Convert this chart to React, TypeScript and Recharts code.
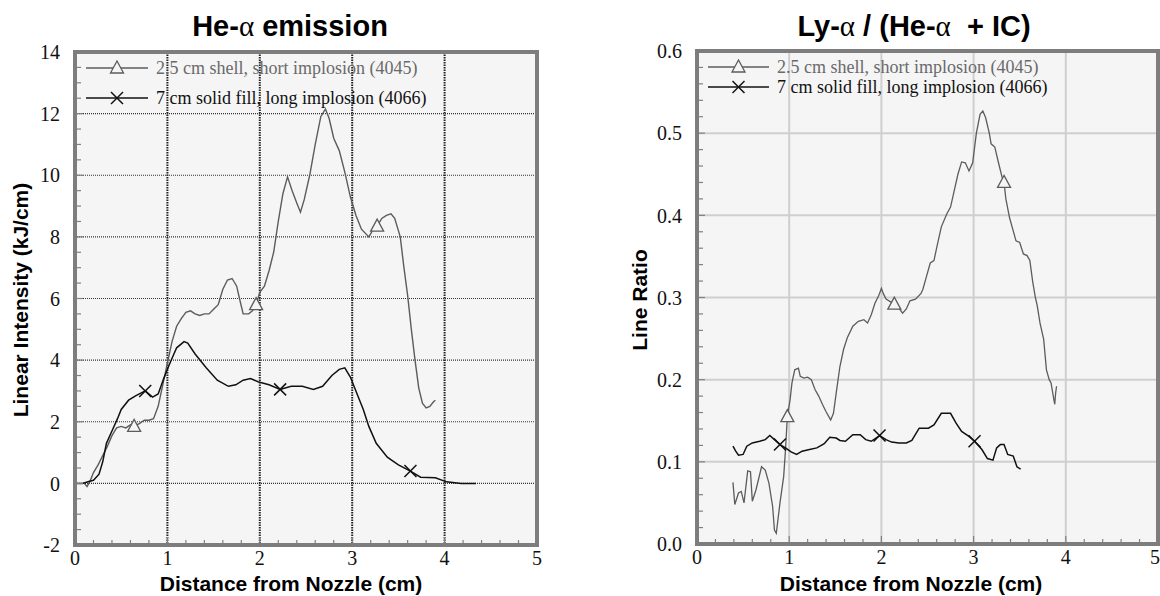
import { CartesianGrid, Legend, Line, LineChart, XAxis, YAxis } from 'recharts'

type Pt = [number, number]

// He-alpha emission, linear intensity (kJ/cm) vs distance (cm)
const heShell: Pt[] = [
  [0.1, 0], [0.13, -0.1], [0.16, 0.05], [0.2, 0.35], [0.25, 0.6], [0.3, 0.9], [0.35, 1.2],
  [0.4, 1.55], [0.45, 1.8], [0.5, 1.85], [0.55, 1.8], [0.6, 1.9], [0.64, 1.85], [0.7, 1.95],
  [0.75, 2.05], [0.8, 2.05], [0.85, 2.1], [0.9, 2.5], [0.95, 3.2], [1.0, 3.9], [1.05, 4.6],
  [1.1, 5.1], [1.15, 5.35], [1.2, 5.55], [1.25, 5.6], [1.3, 5.5], [1.35, 5.45], [1.4, 5.5],
  [1.45, 5.5], [1.5, 5.65], [1.55, 5.8], [1.6, 6.3], [1.65, 6.6], [1.7, 6.65], [1.75, 6.4],
  [1.78, 6.0], [1.82, 5.5], [1.88, 5.5], [1.92, 5.6], [1.96, 5.8], [2.0, 6.2], [2.05, 6.4],
  [2.1, 6.9], [2.15, 7.5], [2.2, 8.5], [2.25, 9.4], [2.3, 9.95], [2.35, 9.5], [2.4, 9.1],
  [2.44, 8.8], [2.48, 9.2], [2.54, 10.0], [2.6, 11.0], [2.66, 11.9], [2.71, 12.15], [2.75, 11.85],
  [2.8, 11.2], [2.86, 10.8], [2.92, 10.1], [2.98, 9.3], [3.04, 8.7], [3.1, 8.25], [3.18, 8.0],
  [3.22, 8.2], [3.27, 8.35], [3.32, 8.6], [3.37, 8.7], [3.42, 8.75], [3.46, 8.6], [3.52, 8.0],
  [3.56, 7.0], [3.6, 6.1], [3.64, 5.0], [3.68, 4.0], [3.72, 3.1], [3.76, 2.6], [3.8, 2.45],
  [3.84, 2.5], [3.88, 2.65], [3.9, 2.7],
]
const heFill: Pt[] = [
  [0.02, 0], [0.08, 0], [0.14, 0.05], [0.2, 0.1], [0.26, 0.3], [0.3, 0.7], [0.34, 1.3],
  [0.4, 1.7], [0.46, 2.1], [0.5, 2.4], [0.58, 2.7], [0.66, 2.85], [0.76, 3.0], [0.84, 2.8],
  [0.9, 2.9], [0.96, 3.4], [1.02, 3.85], [1.1, 4.4], [1.18, 4.6], [1.22, 4.55], [1.3, 4.2],
  [1.42, 3.75], [1.54, 3.35], [1.66, 3.15], [1.74, 3.2], [1.82, 3.35], [1.9, 3.4], [1.98, 3.3],
  [2.1, 3.2], [2.22, 3.05], [2.34, 3.15], [2.46, 3.15], [2.58, 3.05], [2.68, 3.15], [2.78, 3.5],
  [2.86, 3.7], [2.92, 3.75], [2.98, 3.45], [3.04, 3.0], [3.12, 2.4], [3.18, 1.85], [3.26, 1.3],
  [3.38, 0.85], [3.5, 0.6], [3.63, 0.4], [3.74, 0.2], [3.9, 0.18], [4.02, 0.05], [4.18, 0],
  [4.34, 0],
]
const heShellMarks = [0.64, 1.96, 3.27]
const heFillMarks = [0.76, 2.22, 3.63]

// Ly-alpha / (He-alpha + IC) line ratio vs distance (cm)
const lyShell: Pt[] = [
  [0.39, 0.075], [0.41, 0.048], [0.45, 0.062], [0.48, 0.064], [0.51, 0.05], [0.55, 0.089],
  [0.58, 0.088], [0.6, 0.052], [0.64, 0.066], [0.7, 0.094], [0.74, 0.09], [0.78, 0.074],
  [0.82, 0.046], [0.84, 0.017], [0.86, 0.013], [0.9, 0.05], [0.94, 0.082], [0.96, 0.115],
  [0.98, 0.155], [1.01, 0.176], [1.03, 0.196], [1.06, 0.212], [1.1, 0.214], [1.12, 0.204],
  [1.16, 0.202], [1.2, 0.203], [1.24, 0.2], [1.28, 0.188], [1.32, 0.18], [1.36, 0.17],
  [1.4, 0.161], [1.45, 0.151], [1.48, 0.159], [1.51, 0.184], [1.55, 0.216], [1.59, 0.237],
  [1.63, 0.251], [1.69, 0.265], [1.75, 0.271], [1.81, 0.273], [1.85, 0.269], [1.89, 0.279],
  [1.93, 0.293], [1.97, 0.302], [2.0, 0.311], [2.02, 0.305], [2.05, 0.298], [2.14, 0.292],
  [2.19, 0.287], [2.23, 0.281], [2.27, 0.286], [2.31, 0.296], [2.37, 0.298], [2.43, 0.305],
  [2.45, 0.31], [2.49, 0.326], [2.53, 0.342], [2.57, 0.345], [2.61, 0.366], [2.65, 0.386],
  [2.71, 0.402], [2.75, 0.41], [2.79, 0.43], [2.83, 0.45], [2.87, 0.465], [2.91, 0.464],
  [2.95, 0.454], [2.99, 0.464], [3.03, 0.5], [3.07, 0.523], [3.1, 0.527], [3.13, 0.519],
  [3.17, 0.5], [3.19, 0.487], [3.23, 0.483], [3.27, 0.464], [3.31, 0.446], [3.33, 0.44],
  [3.35, 0.42], [3.39, 0.397], [3.42, 0.385], [3.46, 0.369], [3.5, 0.367], [3.54, 0.353],
  [3.58, 0.351], [3.61, 0.345], [3.64, 0.32], [3.67, 0.3], [3.69, 0.29], [3.72, 0.269],
  [3.76, 0.249], [3.79, 0.212], [3.82, 0.2], [3.84, 0.196], [3.87, 0.176], [3.88, 0.17],
  [3.89, 0.184], [3.9, 0.192],
]
const lyFill: Pt[] = [
  [0.39, 0.119], [0.42, 0.113], [0.45, 0.108], [0.5, 0.109], [0.54, 0.119], [0.6, 0.123],
  [0.68, 0.125], [0.74, 0.127], [0.79, 0.132], [0.84, 0.127], [0.9, 0.121], [0.96, 0.117],
  [1.02, 0.112], [1.08, 0.109], [1.14, 0.113], [1.22, 0.115], [1.3, 0.117], [1.38, 0.122],
  [1.44, 0.13], [1.51, 0.129], [1.55, 0.126], [1.61, 0.125], [1.69, 0.133], [1.77, 0.133],
  [1.83, 0.127], [1.89, 0.125], [1.98, 0.132], [2.05, 0.127], [2.11, 0.124], [2.19, 0.123],
  [2.27, 0.123], [2.33, 0.126], [2.41, 0.141], [2.51, 0.141], [2.57, 0.145], [2.65, 0.159],
  [2.75, 0.159], [2.81, 0.147], [2.87, 0.137], [2.95, 0.131], [3.01, 0.125], [3.09, 0.115],
  [3.15, 0.104], [3.21, 0.102], [3.25, 0.117], [3.29, 0.121], [3.33, 0.121], [3.37, 0.109],
  [3.43, 0.107], [3.47, 0.094], [3.51, 0.091],
]
const lyShellMarks = [0.98, 2.14, 3.33]
const lyFillMarks = [0.9, 1.98, 3.01]

const seriesNames = [
  '2.5 cm shell, short implosion (4045)',
  '7 cm solid fill, long implosion (4066)',
]

// tick positions (minor + major)
const xTicks = [
  0, 0.2, 0.4, 0.6, 0.8, 1, 1.2, 1.4, 1.6, 1.8, 2, 2.2, 2.4, 2.6, 2.8,
  3, 3.2, 3.4, 3.6, 3.8, 4, 4.2, 4.4, 4.6, 4.8, 5,
]
const heYTicks = [
  -2, -1.5, -1, -0.5, 0, 0.5, 1, 1.5, 2, 2.5, 3, 3.5, 4, 4.5, 5, 5.5, 6, 6.5, 7,
  7.5, 8, 8.5, 9, 9.5, 10, 10.5, 11, 11.5, 12, 12.5, 13, 13.5, 14,
]
const lyYTicks = [
  0, 0.02, 0.04, 0.06, 0.08, 0.1, 0.12, 0.14, 0.16, 0.18, 0.2, 0.22, 0.24, 0.26, 0.28,
  0.3, 0.32, 0.34, 0.36, 0.38, 0.4, 0.42, 0.44, 0.46, 0.48, 0.5, 0.52, 0.54, 0.56, 0.58, 0.6,
]
const heGridY = [0, 2, 4, 6, 8, 10, 12]
const lyGridY = [0.1, 0.2, 0.3, 0.4, 0.5]
const gridX = [1, 2, 3, 4]
const xDomain: [number, number] = [0, 5]
const heDomain: [number, number] = [-2, 14]
const lyDomain: [number, number] = [0, 0.6]

const SERIF = '"Times New Roman", "Liberation Serif", serif'
const SANS = '"Liberation Sans", Arial, sans-serif'
const SHELL = '#5c5c5c'
const FILL = '#111'
const FRAME = '#7d7d7d'
const TICK = '#808080'

const CHART_W = 580
const CHART_H = 596
const AXIS = 1 // thickness given to each axis
const heMargin = { top: 51, bottom: 50, left: 74, right: 42 }
const lyMargin = { top: 50, bottom: 51, left: 116, right: 1 }

const toRows = (pts: Pt[]) => pts.map(([x, y]) => ({ x, y }))

const near = (a: number, b: number) => Math.abs(a - b) < 1e-6

function triangleDot(marks: number[]) {
  return (p: any) => {
    const { cx, cy, payload, index } = p
    if (!marks.some((m) => near(m, payload.x))) return <g key={`t${index}`} />
    return (
      <polygon
        key={`t${index}`}
        points={`${cx},${cy - 7} ${cx - 6.5},${cy + 5} ${cx + 6.5},${cy + 5}`}
        fill="#f5f5f5"
        stroke={SHELL}
        strokeWidth={1.3}
      />
    )
  }
}

function crossDot(marks: number[]) {
  return (p: any) => {
    const { cx, cy, payload, index } = p
    if (!marks.some((m) => near(m, payload.x))) return <g key={`c${index}`} />
    return (
      <g key={`c${index}`} stroke={FILL} strokeWidth={1.5}>
        <line x1={cx - 6} y1={cy - 6} x2={cx + 6} y2={cy + 6} />
        <line x1={cx - 6} y1={cy + 6} x2={cx + 6} y2={cy - 6} />
      </g>
    )
  }
}

const labelStyle = { fontFamily: SERIF, fontSize: 20 }

function bottomTick(lastAtEdge: boolean) {
  return (p: any) => {
    const { x, y, payload } = p
    const v = payload.value
    const major = near(v, Math.round(v))
    const edge = lastAtEdge && near(v, 5)
    return (
      <g>
        <line x1={x} x2={x} y1={y} y2={y - (major ? 8 : 5)} stroke={TICK} strokeWidth={1.2} />
        {major && (
          <text
            x={edge ? x + 2 : x}
            y={y + 20}
            textAnchor={edge ? 'end' : 'middle'}
            fontFamily={SERIF}
            fontSize={20}
            style={labelStyle}
            fill="#111"
          >
            {v}
          </text>
        )}
      </g>
    )
  }
}

const topTick = (p: any) => {
  const { x, y, payload } = p
  const major = near(payload.value, Math.round(payload.value))
  return <line x1={x} x2={x} y1={y} y2={y + (major ? 8 : 5)} stroke={TICK} strokeWidth={1.2} />
}

function leftTick(isMajor: (v: number) => boolean, fmt: (v: number) => string) {
  return (p: any) => {
    const { x, y, payload } = p
    const v = payload.value
    const major = isMajor(v)
    return (
      <g>
        <line x1={x} x2={x + (major ? 8 : 6)} y1={y} y2={y} stroke={TICK} strokeWidth={1.2} />
        {major && (
          <text
            x={x - 15}
            y={y}
            dy="0.36em"
            textAnchor="end"
            fontFamily={SERIF}
            fontSize={20}
            style={labelStyle}
            fill="#111"
          >
            {fmt(v)}
          </text>
        )}
      </g>
    )
  }
}

function rightTick(isMajor: (v: number) => boolean) {
  return (p: any) => {
    const { x, y, payload } = p
    const major = isMajor(payload.value)
    return <line x1={x} x2={x - (major ? 8 : 6)} y1={y} y2={y} stroke={TICK} strokeWidth={1.2} />
  }
}

const heMajor = (v: number) => near(v / 2, Math.round(v / 2))
const lyMajor = (v: number) => near(v * 10, Math.round(v * 10))

function LegendBox({ rowH, fontSize, lineW }: { rowH: number; fontSize: number; lineW: number }) {
  return (
    <div style={{ fontFamily: SERIF, fontSize, lineHeight: 1 }}>
      {seriesNames.map((name, i) => (
        <div key={name} style={{ display: 'flex', alignItems: 'center', height: rowH }}>
          <svg width={lineW} height={16} style={{ display: 'block' }}>
            <line x1={0} x2={lineW} y1={8} y2={8} stroke={i === 0 ? SHELL : FILL} strokeWidth={1.3} />
            {i === 0 ? (
              <polygon
                points={`${lineW / 2},${1} ${lineW / 2 - 6.5},${13} ${lineW / 2 + 6.5},${13}`}
                fill="#f5f5f5"
                stroke={SHELL}
                strokeWidth={1.3}
              />
            ) : (
              <g stroke={FILL} strokeWidth={1.5}>
                <line x1={lineW / 2 - 6} y1={2} x2={lineW / 2 + 6} y2={14} />
                <line x1={lineW / 2 - 6} y1={14} x2={lineW / 2 + 6} y2={2} />
              </g>
            )}
          </svg>
          <span style={{ marginLeft: 8, color: i === 0 ? '#6a6a6a' : '#111', whiteSpace: 'nowrap' }}>
            {name}
          </span>
        </div>
      ))}
    </div>
  )
}

// gray border drawn around the plot area that the margins leave
function PlotFrame({ m }: { m: { top: number; bottom: number; left: number; right: number } }) {
  const left = m.left + AXIS
  const top = m.top + AXIS
  const width = CHART_W - m.left - m.right - 2 * AXIS
  const height = CHART_H - m.top - m.bottom - 2 * AXIS
  return (
    <svg
      width={CHART_W}
      height={CHART_H}
      style={{ position: 'absolute', left: 0, top: 0, zIndex: 5, pointerEvents: 'none', overflow: 'visible' }}
    >
      <rect x={left} y={top} width={width} height={height} fill="none" stroke={FRAME} strokeWidth={4} />
    </svg>
  )
}

const abs = (left: number, top: number, extra: any = {}) => ({
  position: 'absolute' as const,
  left,
  top,
  transform: 'translate(-50%, -50%)',
  whiteSpace: 'pre' as const,
  ...extra,
})

const titleStyle = { fontFamily: SANS, fontWeight: 700, fontSize: 29, color: '#000' }
const axisTitleStyle = { fontFamily: SANS, fontWeight: 700, fontSize: 21, color: '#000' }
const alpha = <span style={{ fontFamily: SERIF, fontWeight: 400 }}>α</span>

// thin axes whose tick renderers draw the inward ticks and the labels
const axisBase = {
  type: 'number' as const,
  interval: 0 as const,
  tickSize: 0,
  tickMargin: 0,
  axisLine: false,
}

export default function App() {
  return (
    <div
      style={{
        position: 'absolute',
        left: 0,
        top: 0,
        width: 1160,
        height: 596,
        background: '#fff',
        overflow: 'hidden',
        fontFamily: SERIF,
      }}
    >
      {/* left panel */}
      <div style={{ position: 'absolute', left: 0, top: 0, width: CHART_W, height: CHART_H }}>
        <LineChart width={CHART_W} height={CHART_H} margin={heMargin}>
          <CartesianGrid
            horizontal
            vertical={false}
            horizontalValues={heGridY}
            fill="#f5f5f5"
            stroke="#333"
            strokeDasharray="1 1"
            strokeWidth={1.2}
          />
          <CartesianGrid
            horizontal={false}
            vertical
            verticalValues={gridX}
            stroke="#222"
            strokeDasharray="1.5 1"
            strokeWidth={2}
          />
          <XAxis {...axisBase} dataKey="x" domain={xDomain} ticks={xTicks} height={AXIS} tick={bottomTick(false)} />
          <XAxis {...axisBase} xAxisId="top" orientation="top" dataKey="x" domain={xDomain} ticks={xTicks} height={AXIS} tick={topTick} />
          <YAxis {...axisBase} domain={heDomain} ticks={heYTicks} width={AXIS} tick={leftTick(heMajor, (v) => String(v))} />
          <YAxis {...axisBase} yAxisId="right" orientation="right" domain={heDomain} ticks={heYTicks} width={AXIS} tick={rightTick(heMajor)} />
          <Legend
            layout="vertical"
            align="center"
            verticalAlign="middle"
            wrapperStyle={{ top: 53, left: 86, width: 'auto' }}
            content={() => <LegendBox rowH={30} fontSize={18} lineW={62} />}
          />
          <Line
            data={toRows(heShell)}
            dataKey="y"
            type="linear"
            stroke={SHELL}
            strokeWidth={1.4}
            dot={triangleDot(heShellMarks)}
            activeDot={false}
            isAnimationActive={false}
          />
          <Line
            data={toRows(heFill)}
            dataKey="y"
            type="linear"
            stroke={FILL}
            strokeWidth={1.5}
            dot={crossDot(heFillMarks)}
            activeDot={false}
            isAnimationActive={false}
          />
        </LineChart>
        <PlotFrame m={heMargin} />
      </div>

      {/* right panel */}
      <div style={{ position: 'absolute', left: CHART_W, top: 0, width: CHART_W, height: CHART_H }}>
        <LineChart width={CHART_W} height={CHART_H} margin={lyMargin}>
          <CartesianGrid
            horizontalValues={lyGridY}
            verticalValues={gridX}
            fill="#f5f5f5"
            stroke="#cfcfcf"
            strokeWidth={2}
          />
          <XAxis {...axisBase} dataKey="x" domain={xDomain} ticks={xTicks} height={AXIS} tick={bottomTick(true)} />
          <XAxis {...axisBase} xAxisId="top" orientation="top" dataKey="x" domain={xDomain} ticks={xTicks} height={AXIS} tick={topTick} />
          <YAxis {...axisBase} domain={lyDomain} ticks={lyYTicks} width={AXIS} tick={leftTick(lyMajor, (v) => v.toFixed(1))} />
          <YAxis {...axisBase} yAxisId="right" orientation="right" domain={lyDomain} ticks={lyYTicks} width={AXIS} tick={rightTick(lyMajor)} />
          <Legend
            layout="vertical"
            align="center"
            verticalAlign="middle"
            wrapperStyle={{ top: 57, left: 128, width: 'auto' }}
            content={() => <LegendBox rowH={20} fontSize={18} lineW={61} />}
          />
          <Line
            data={toRows(lyShell)}
            dataKey="y"
            type="linear"
            stroke={SHELL}
            strokeWidth={1.3}
            dot={triangleDot(lyShellMarks)}
            activeDot={false}
            isAnimationActive={false}
          />
          <Line
            data={toRows(lyFill)}
            dataKey="y"
            type="linear"
            stroke={FILL}
            strokeWidth={1.5}
            dot={crossDot(lyFillMarks)}
            activeDot={false}
            isAnimationActive={false}
          />
        </LineChart>
        <PlotFrame m={lyMargin} />
      </div>

      {/* titles */}
      <div style={abs(290, 26, titleStyle)}>He-{alpha} emission</div>
      <div style={abs(914, 26, titleStyle)}>Ly-{alpha} / (He-{alpha}  + IC)</div>
      <div style={abs(291, 584, axisTitleStyle)}>Distance from Nozzle (cm)</div>
      <div style={abs(911, 584, axisTitleStyle)}>Distance from Nozzle (cm)</div>
      <div style={abs(21, 300, { ...axisTitleStyle, transform: 'translate(-50%, -50%) rotate(-90deg)' })}>
        Linear Intensity (kJ/cm)
      </div>
      <div style={abs(640, 300, { ...axisTitleStyle, transform: 'translate(-50%, -50%) rotate(-90deg)' })}>
        Line Ratio
      </div>
    </div>
  )
}
